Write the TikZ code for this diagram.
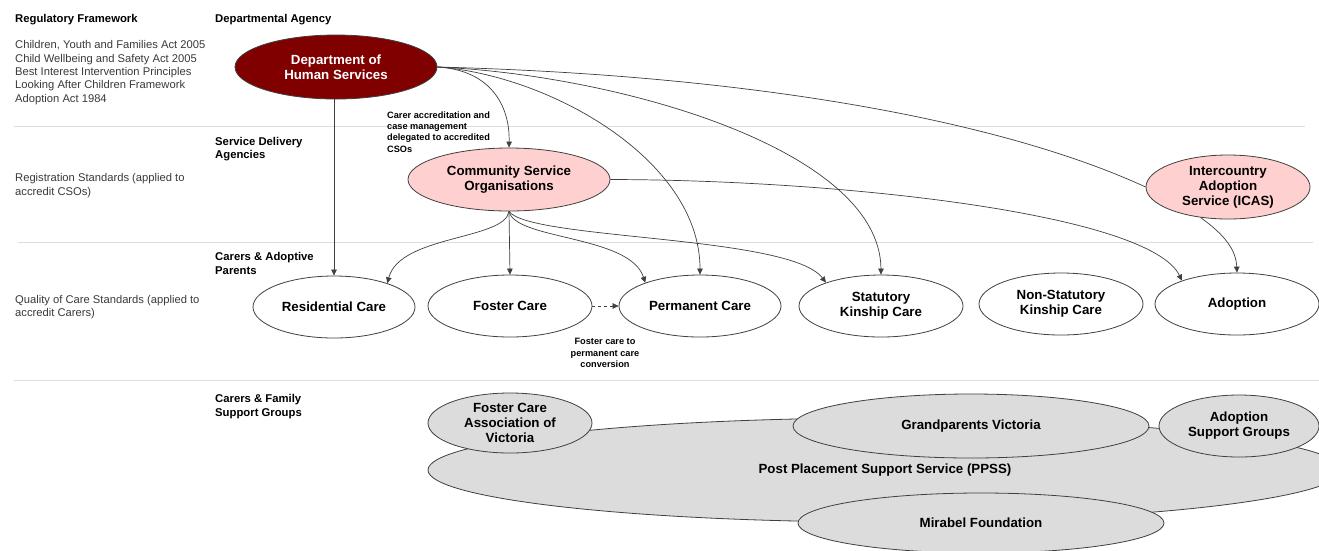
\documentclass[tikz,border=0pt]{standalone}
\usepackage{fontspec}
\setmainfont{Liberation Sans}
\usetikzlibrary{shapes.geometric,arrows.meta}
\definecolor{dhsred}{HTML}{800000}
\definecolor{pinkfill}{HTML}{FFD0D0}
\definecolor{grayfill}{HTML}{DCDCDC}
\definecolor{sepline}{HTML}{DDDDDD}
\definecolor{edgecol}{HTML}{404040}
\definecolor{txtgray}{HTML}{3A3A3A}
\tikzset{
  ov/.style={ellipse, draw=edgecol, line width=0.8pt, inner sep=0pt, align=center,
    font=\fontsize{13.3}{15}\selectfont\bfseries},
  hdr/.style={anchor=west, inner sep=0pt, align=left, font=\fontsize{11.3}{13.3}\selectfont\bfseries},
  body/.style={anchor=west, inner sep=0pt, align=left, text=txtgray, font=\fontsize{11.2}{13.3}\selectfont},
  small/.style={inner sep=0pt, font=\fontsize{9.2}{11.3}\selectfont\bfseries},
  conn/.style={draw=edgecol, line width=0.7pt, -{Triangle[length=6pt,width=5.5pt]}},
  plain/.style={draw=edgecol, line width=0.7pt},
  sep/.style={draw=sepline, line width=0.9pt}
}
\begin{document}
\begin{tikzpicture}[x=1pt,y=-1pt]
\useasboundingbox (0,0) rectangle (1319,550);
\clip (0,0) rectangle (1319,550);
\fill[white] (0,0) rectangle (1319,550);
% separators
\draw[sep] (14,126) -- (1305,126);
\draw[sep] (18,242) -- (1313,242);
\draw[sep] (14,380) -- (1319,380);
% left texts
\node[hdr] (hreg) at (15,20) {Regulatory Framework};
\node[hdr] (hdep) at (215,20) {Departmental Agency};
\node[body] (acts) at (15,72.5) {Children, Youth and Families Act 2005\\Child Wellbeing and Safety Act 2005\\Best Interest Intervention Principles\\Looking After Children Framework\\Adoption Act 1984};
\node[hdr] (hsda) at (215,149) {Service Delivery\\Agencies};
\node[body] (regstd) at (15,185.5) {Registration Standards (applied to\\accredit CSOs)};
\node[hdr] (hcap) at (215,263.5) {Carers \& Adoptive\\Parents};
\node[body] (qcs) at (15,307) {Quality of Care Standards (applied to\\accredit Carers)};
\node[hdr] (hcfs) at (215,406.5) {Carers \& Family\\Support Groups};
% main nodes
\node[ov, fill=dhsred, text=white, minimum width=202pt, minimum height=64pt] (dhs) at (336,67) {Department of\\Human Services};
\node[ov, fill=pinkfill, minimum width=202pt, minimum height=63pt] (cso) at (509,179.5) {Community Service\\Organisations};
\node[ov, fill=pinkfill, minimum width=164pt, minimum height=64pt] (icas) at (1228,187) {Intercountry\\Adoption\\Service (ICAS)};
\node[ov, fill=white, minimum width=162pt, minimum height=62pt] (res) at (334,307) {Residential Care};
\node[ov, fill=white, minimum width=164pt, minimum height=62pt] (fos) at (510,306) {Foster Care};
\node[ov, fill=white, minimum width=162pt, minimum height=62pt] (perm) at (700,306) {Permanent Care};
\node[ov, fill=white, minimum width=164pt, minimum height=62pt] (stat) at (881,306) {Statutory\\Kinship Care};
\node[ov, fill=white, minimum width=164pt, minimum height=62pt] (nstat) at (1061,304) {Non-Statutory\\Kinship Care};
\node[ov, fill=white, minimum width=164pt, minimum height=62pt] (adop) at (1237,304) {Adoption};
% labels
\node[small, anchor=west, align=left] (lblcarer) at (387,132) {Carer accreditation and\\case management\\delegated to accredited\\CSOs};
\node[small, align=center] (lblconv) at (605,353) {Foster care to\\permanent care\\conversion};
% connectors
\draw[conn] (res.north |- dhs.south) -- (res.north);
\draw[conn] (dhs.east) .. controls (490,70) and (510,105) .. (cso.north);
\draw[conn] (dhs.east) .. controls (550,75) and (700,160) .. (perm.north);
\draw[conn] (dhs.east) .. controls (620,75) and (880,150) .. (stat.north);
\draw[plain] (dhs.east) .. controls (750,75) and (1000,120) .. (icas.west);
\draw[conn] (cso.east) .. controls (850,180) and (1150,215) .. (adop.157);
\draw[conn] (cso.south) .. controls (505,240) and (400,235) .. (res.24);
\draw[conn] (cso.south) -- (fos.north);
\draw[conn] (cso.south) .. controls (515,240) and (630,235) .. (perm.157);
\draw[conn] (cso.south) .. controls (530,240) and (790,235) .. (stat.157);
\draw[conn] (icas.228) .. controls (1225,235) and (1236,250) .. (adop.north);
\draw[conn, dashed] (fos.east) -- (perm.west);
% support groups
\node[ov, fill=grayfill, minimum width=914pt, minimum height=104pt] (ppss) at (885,470) {Post Placement Support Service (PPSS)};
\node[ov, fill=grayfill, minimum width=164pt, minimum height=60pt] (fca) at (510,423) {Foster Care\\Association of\\Victoria};
\node[ov, fill=grayfill, minimum width=356pt, minimum height=64pt] (gpv) at (971,426) {Grandparents Victoria};
\node[ov, fill=grayfill, minimum width=160pt, minimum height=62pt] (asg) at (1239,426) {Adoption\\Support Groups};
\node[ov, fill=grayfill, minimum width=366pt, minimum height=60pt] (mir) at (981,523) {Mirabel Foundation};
\end{tikzpicture}
\end{document}
